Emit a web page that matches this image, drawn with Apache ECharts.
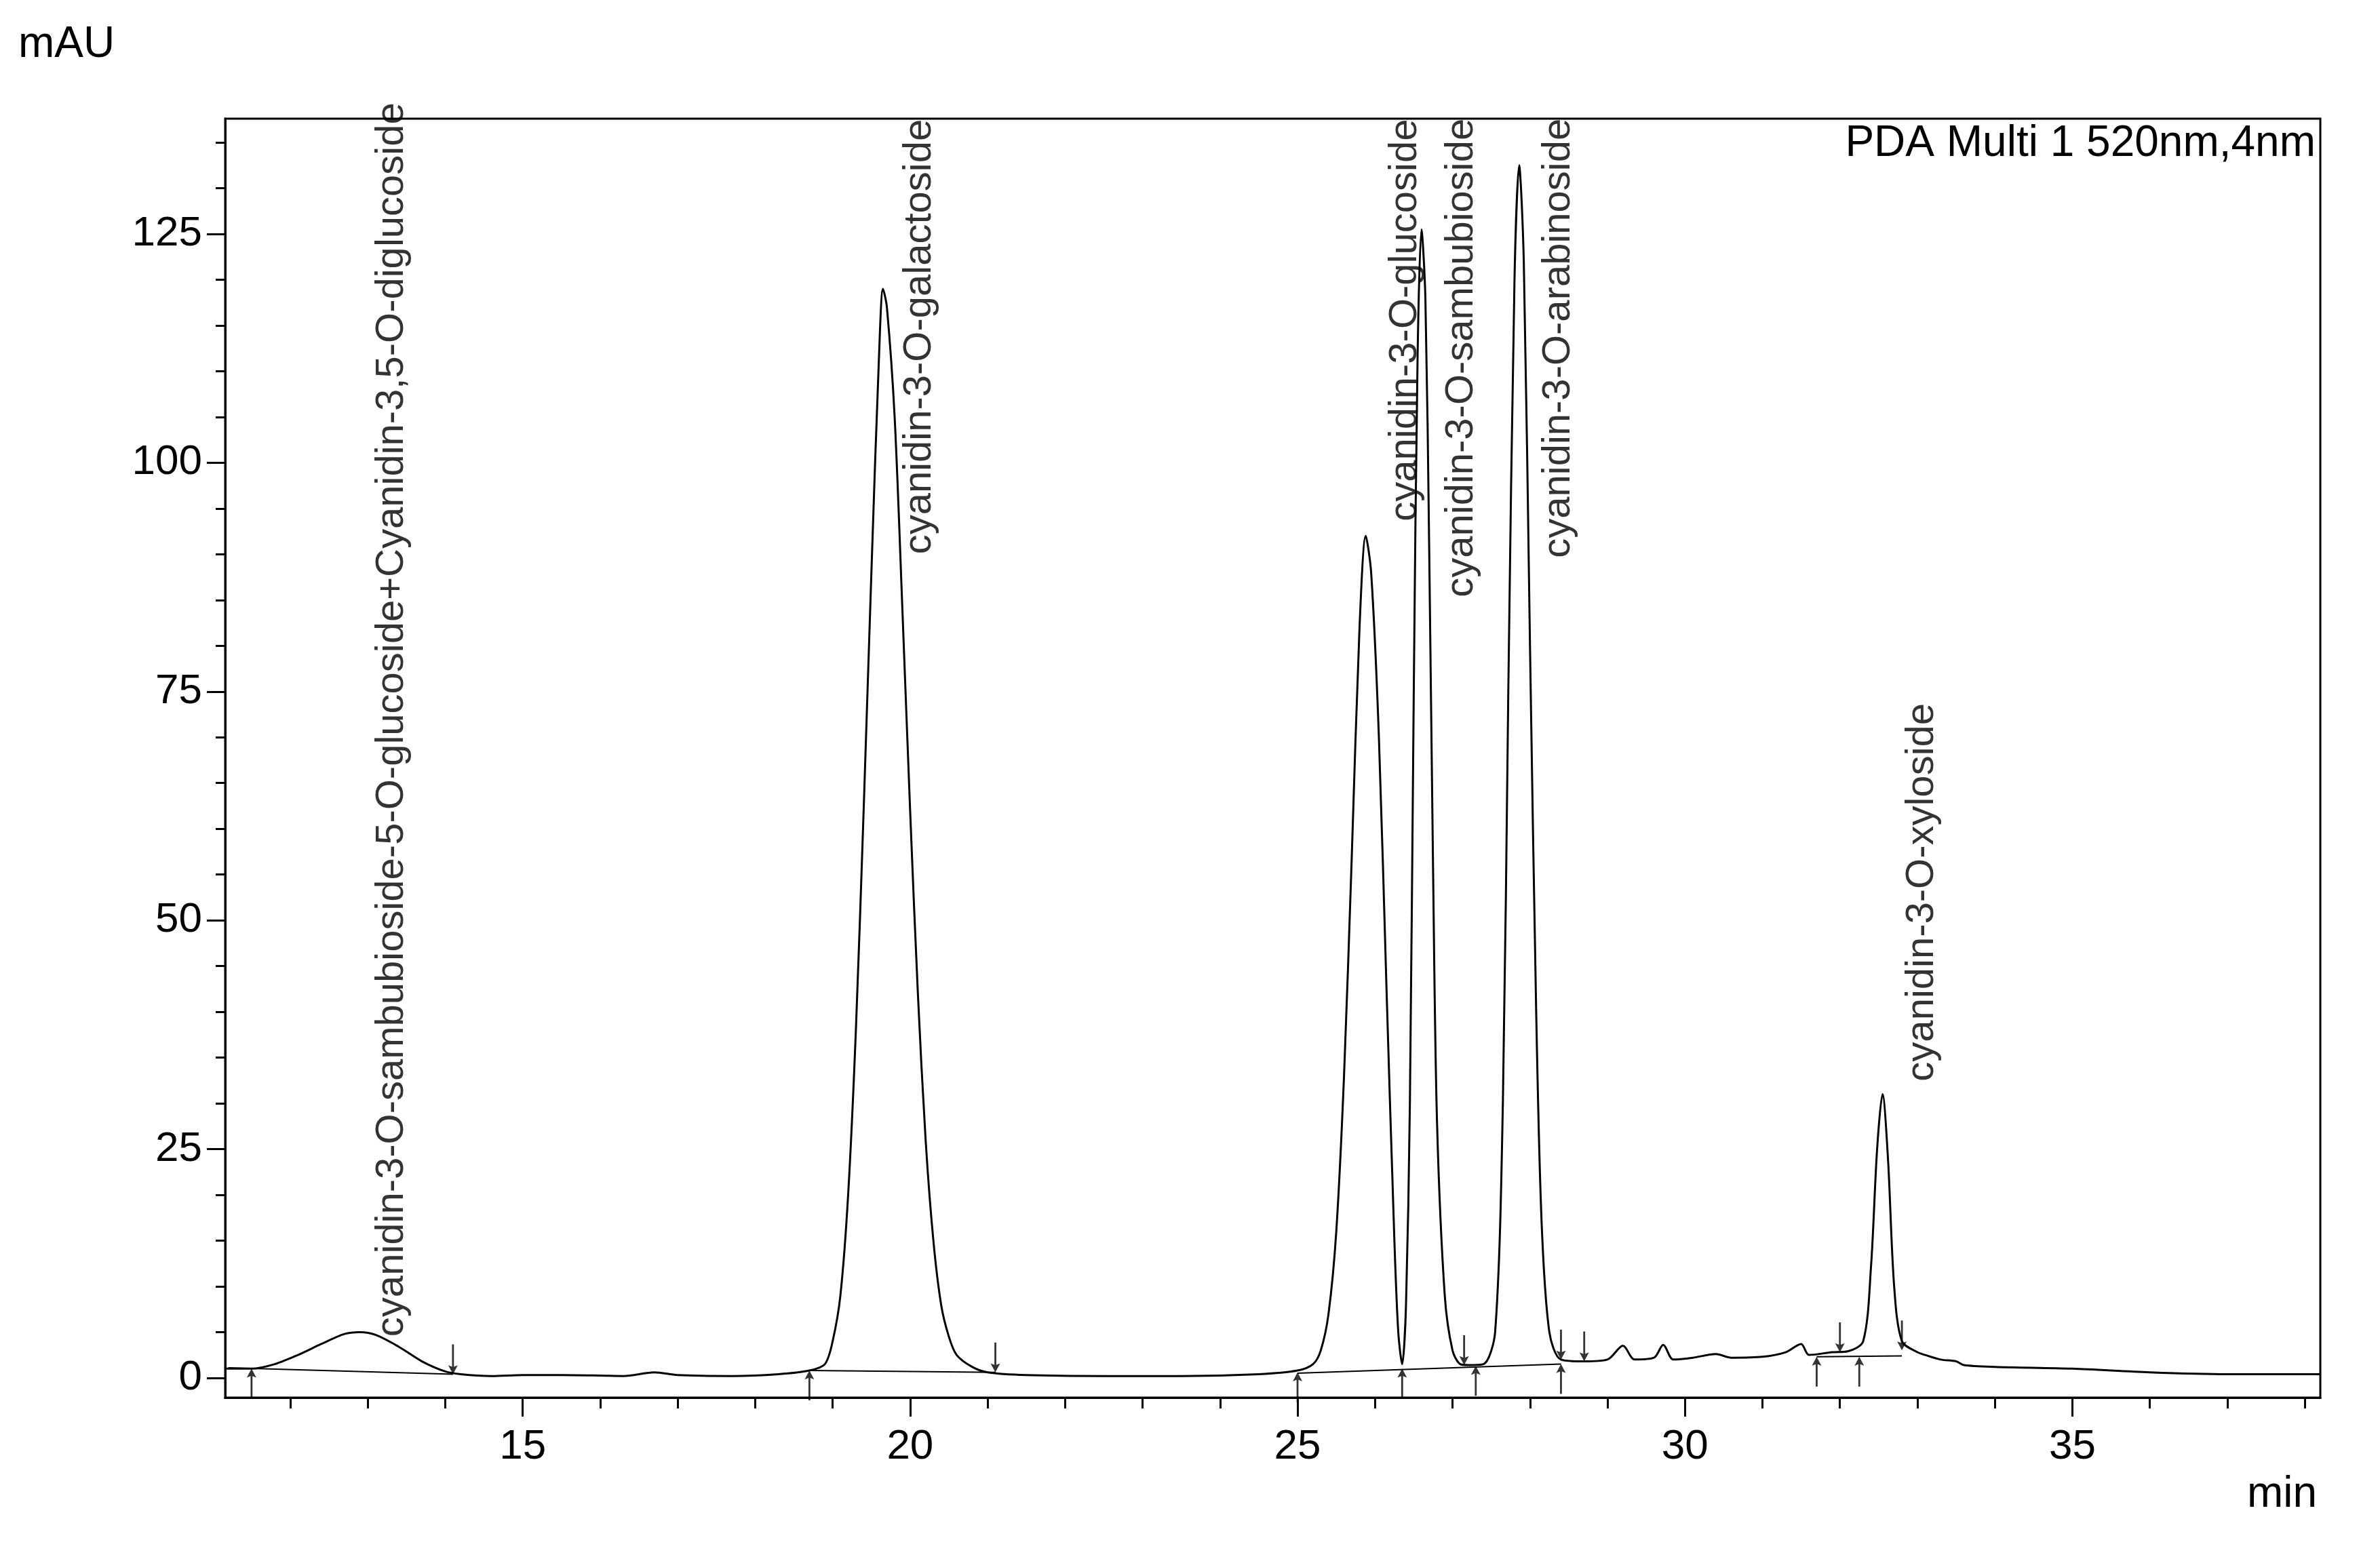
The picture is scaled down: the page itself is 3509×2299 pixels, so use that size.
<!DOCTYPE html>
<html><head><meta charset="utf-8">
<script src="https://cdn.jsdelivr.net/npm/echarts@6/dist/echarts.min.js"></script>
<style>html,body{margin:0;padding:0;background:#fff}#c{width:3509px;height:2299px}</style>
</head><body><div id="c"></div>
<script>
const signal = [
[11.16,1.0],[11.5,1.0],[11.8,1.5],[12.1,2.5],[12.4,3.7],[12.7,4.8],[12.9,5.0],[13.1,4.7],[13.4,3.4],[13.7,1.8],[14.0,0.7],[14.2,0.4],[14.6,0.2],[15.0,0.3],[15.5,0.3],[16.0,0.25],[16.3,0.2],[16.7,0.6],[17.0,0.3],[17.7,0.2],[18.3,0.4],[18.7,0.8],
[18.9,1.5],[19.0,4],[19.1,9],[19.2,20],[19.3,38],[19.4,62],[19.5,88],[19.6,112],[19.65,119],[19.7,117],[19.8,105],[19.9,84],[20.0,62],[20.1,42],[20.2,26],[20.3,15],[20.4,8],[20.5,4.5],[20.6,2.5],[20.8,1.2],[21.0,0.6],
[21.5,0.3],[22.5,0.2],[23.5,0.2],[24.5,0.4],[25.0,0.8],
[25.2,1.5],[25.3,3],[25.4,7],[25.5,16],[25.6,33],[25.7,57],[25.8,82],[25.88,92],[25.95,88],[26.05,70],[26.15,42],[26.25,15],[26.3,5],[26.35,1.5],
[26.4,8],[26.45,30],[26.5,75],[26.55,112],[26.6,125.5],[26.65,118],[26.7,90],[26.75,55],[26.8,28],[26.9,9],[27.0,3],[27.1,1.5],[27.2,1.4],[27.4,1.5],
[27.55,5],[27.65,30],[27.72,75],[27.8,120],[27.86,132.5],[27.92,122],[28.0,80],[28.08,40],[28.15,17],[28.25,5],[28.4,2],[28.7,1.8],
[29.0,2],[29.2,3.5],[29.35,2],[29.6,2.2],[29.72,3.6],[29.85,2],[30.1,2.2],[30.4,2.6],[30.6,2.2],[31.0,2.3],[31.3,2.8],[31.5,3.7],[31.6,2.5],[31.9,2.8],[32.1,2.9],
[32.3,4],[32.4,12],[32.48,25],[32.55,31],[32.62,24],[32.7,10],[32.8,4],[33.0,2.8],[33.1,2.5],[33.3,2],[33.5,1.8],[33.6,1.4],[34.0,1.2],[35.0,1.0],[36.0,0.6],[37.0,0.4],[38.2,0.4]
];
const baselines = [[11.2,1.1],[14.1,0.4],null,[18.7,0.8],[21.1,0.6],null,[25.0,0.5],[28.4,1.5],null,[31.7,2.3],[32.8,2.4]];
const upArrows = [[11.5,1.0],[18.7,0.8],[25.0,0.6],[26.35,1.0],[27.3,1.3],[28.4,1.5],[31.7,2.3],[32.25,2.3]];
const downArrows = [[14.1,0.4],[21.1,0.6],[27.15,1.4],[28.4,2.0],[28.7,1.8],[32.0,2.8],[32.8,3.0]];
const peakNames = ['cyanidin-3-O-sambubioside-5-O-glucoside+Cyanidin-3,5-O-diglucoside','cyanidin-3-O-galactoside','cyanidin-3-O-glucoside','cyanidin-3-O-sambubioside','cyanidin-3-O-arabinoside','cyanidin-3-O-xyloside'];
const labelX = [13.31,20.12,26.39,27.12,28.37,33.06];
const labelY = [4.5,90,93.6,85.3,89.6,32.4];
const xMajor = [15,20,25,30,35];
const xMinor = [12,13,14,16,17,18,19,21,22,23,24,26,27,28,29,31,32,33,34,36,37,38];
const yMajor = [0,25,50,75,100,125];
const yMinor = [5,10,15,20,30,35,40,45,55,60,65,70,80,85,90,95,105,110,115,120,130,135];

const F = 'Liberation Sans, Arial, sans-serif';
const xBase = {type:'value',min:11.16,max:38.2,gridIndex:0,splitLine:{show:false},axisLine:{show:true,onZero:false,lineStyle:{color:'#000',width:3}}};
const yBase = {type:'value',min:-2.16,max:137.6,gridIndex:0,splitLine:{show:false},axisLine:{show:true,onZero:false,lineStyle:{color:'#000',width:3}}};
const arrowUp = 'path://M5,0 L0,12 L4,10 L4,40 L6,40 L6,10 L10,12 Z';
const arrowDown = 'path://M5,40 L0,28 L4,30 L4,0 L6,0 L6,30 L10,28 Z';
const option = {
  animation:false,
  backgroundColor:'#fff',
  grid:{left:332,right:88,top:175,bottom:238,show:true,borderColor:'#000',borderWidth:3},
  xAxis:[
    Object.assign({},xBase,{axisTick:{show:true,inside:false,length:28,customValues:xMajor,lineStyle:{color:'#000',width:3}},axisLabel:{customValues:xMajor,color:'#000',fontSize:62,fontFamily:F,margin:42}}),
    Object.assign({},xBase,{position:'bottom',axisTick:{show:true,inside:false,length:16,customValues:xMinor,lineStyle:{color:'#000',width:3}},axisLabel:{show:false}})
  ],
  yAxis:[
    Object.assign({},yBase,{axisTick:{show:true,inside:false,length:27,customValues:yMajor,lineStyle:{color:'#000',width:3}},axisLabel:{customValues:yMajor,color:'#000',fontSize:62,fontFamily:F,margin:34}}),
    Object.assign({},yBase,{position:'left',axisTick:{show:true,inside:false,length:14,customValues:yMinor,lineStyle:{color:'#000',width:3}},axisLabel:{show:false}})
  ],
  series:[
    {type:'line',data:signal,showSymbol:false,smooth:0.3,lineStyle:{color:'#000',width:3},z:3},
    {type:'line',data:baselines,showSymbol:false,connectNulls:false,lineStyle:{color:'#000',width:2},z:2},
    {type:'scatter',data:upArrows,symbol:arrowUp,symbolSize:[14,44],symbolOffset:[0,'50%'],itemStyle:{color:'#000'},z:4},
    {type:'scatter',data:downArrows,symbol:arrowDown,symbolSize:[14,44],symbolOffset:[0,'-50%'],itemStyle:{color:'#000'},z:4},
    {type:'scatter',symbolSize:0,data:labelX.map((x,i)=>({value:[x,labelY[i]],name:peakNames[i]})),
     label:{show:true,position:'inside',rotate:90,align:'left',verticalAlign:'middle',formatter:p=>p.name,color:'#000',fontSize:58,fontFamily:F},z:5}
  ],
  graphic:[
    {type:'text',left:27,top:34,style:{text:'mAU',fontSize:64,fontFamily:F,fill:'#000'}},
    {type:'text',right:93,top:2172,style:{text:'min',fontSize:64,fontFamily:F,fill:'#000'}},
    {type:'text',right:95,top:180,style:{text:'PDA Multi 1 520nm,4nm',fontSize:64,fontFamily:F,fill:'#000'}}
  ]
};
echarts.init(document.getElementById('c')).setOption(option);
</script></body></html>
